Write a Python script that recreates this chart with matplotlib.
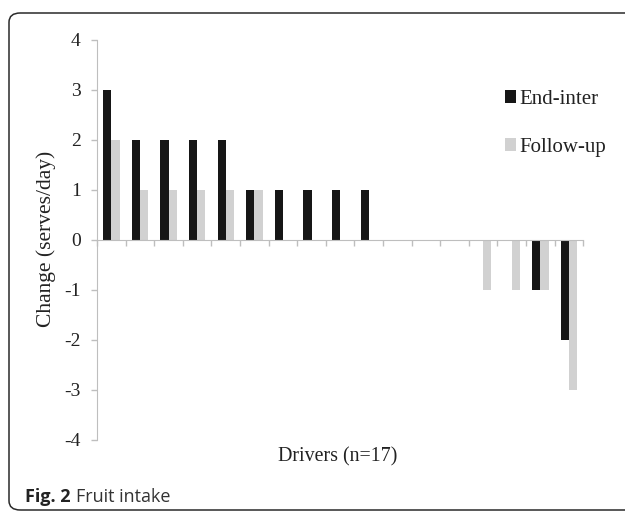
import matplotlib
matplotlib.use("Agg")
import matplotlib.pyplot as plt
from matplotlib.patches import FancyBboxPatch
import numpy as np

# Valeurs (17 conducteurs)
drivers = np.arange(17)
end_inter = [3, 2, 2, 2, 2, 1, 1, 1, 1, 1, 0, 0, 0, 0, 0, -1, -2]
follow_up = [2, 1, 1, 1, 1, 1, 0, 0, 0, 0, 0, 0, 0, -1, -1, -1, -3]
yticks = [-4, -3, -2, -1, 0, 1, 2, 3, 4]

serif = "Liberation Serif"
axis_grey = "#BEBEBE"
W, H = 625, 512

fig = plt.figure(figsize=(6.25, 5.12), dpi=100)
ax = fig.add_axes([97 / W, 1 - 440 / H, 486.3 / W, 400 / H])

w = 0.287
ax.bar(drivers - w / 2, end_inter, width=w, color="#161616", label="End-inter")
ax.bar(drivers + w / 2, follow_up, width=w, color="#D1D1D1", label="Follow-up")

ax.set_xlim(-0.5, 16.5)
ax.set_ylim(-4, 4)
ax.set_yticks(yticks)
ax.set_yticklabels([str(v) for v in yticks], fontfamily=serif, fontsize=14, color="#222222")
ax.set_xticks(np.arange(-0.5, 17, 1))
ax.set_xticklabels([])

# Axes façon Excel
ax.spines["top"].set_visible(False)
ax.spines["right"].set_visible(False)
ax.spines["bottom"].set_position(("data", 0))
ax.spines["bottom"].set_color(axis_grey)
ax.spines["left"].set_color(axis_grey)
ax.tick_params(axis="x", direction="out", length=4.2, color=axis_grey, width=1)
ax.tick_params(axis="y", direction="out", length=4.3, color=axis_grey, width=1, pad=7.5)

ax.set_ylabel("Change (serves/day)", fontfamily=serif, fontsize=15.5, color="#222222")
ax.yaxis.label.set_va("center")
ax.yaxis.set_label_coords((46 - 97) / 486.3, (440 - 239) / 400)
ax.text((338 - 97) / 486.3, -17 / 400, "Drivers (n=17)", transform=ax.transAxes,
        ha="center", va="center", fontfamily=serif, fontsize=14.4, color="#222222")

leg = ax.legend(loc="upper left", bbox_to_anchor=(505 / W, 1 - 90 / H),
                bbox_transform=fig.transFigure, frameon=False, borderpad=0, borderaxespad=0,
                handlelength=0.55, handleheight=0.55, handletextpad=0.15, labelspacing=1.38,
                prop={"family": serif, "size": 15})
for txt in leg.get_texts():
    txt.set_color("#222222")

# Cadre arrondi et légende de figure
frame = FancyBboxPatch((9 / W, 2 / H), 640 / W, 497 / H,
                       boxstyle="round,pad=0,rounding_size=0.018",
                       transform=fig.transFigure, fill=False, ec="#2a2a2a", lw=1.1,
                       clip_on=False)
fig.patches.append(frame)

t1 = fig.text(25 / W, 1 - 497 / H, "Fig. 2", fontfamily="Open Sans", fontweight="bold",
              fontsize=13, va="center", ha="left", color="#222222")
fig.canvas.draw()
bb = t1.get_window_extent()
fig.text((bb.x1 + 5) / W, 1 - 497 / H, "Fruit intake", fontfamily="Open Sans",
         fontsize=13, va="center", ha="left", color="#333333")

fig.savefig("out.png", dpi=100)
